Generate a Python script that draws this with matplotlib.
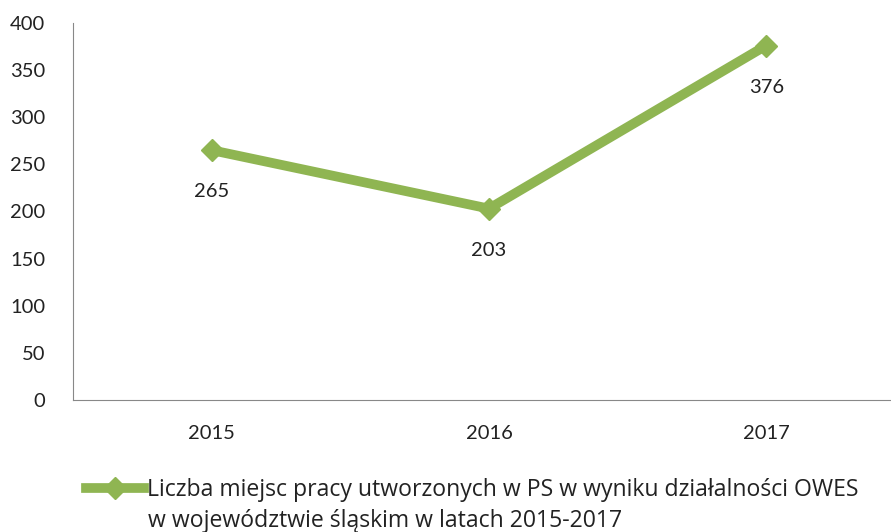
import matplotlib.pyplot as plt

lata = ["2015", "2016", "2017"]
miejsca_pracy = [265, 203, 376]
opis_1 = "Liczba miejsc pracy utworzonych w PS w wyniku działalności OWES"
opis_2 = "w województwie śląskim w latach 2015-2017"

plt.rcParams['font.family'] = ['Lato', 'DejaVu Sans']

fig = plt.figure(figsize=(8.91, 5.32), dpi=100)
ax = fig.add_axes([0.082, 0.248, 0.918, 0.709])

x = list(range(len(lata)))
zielony = "#8FB552"
ax.plot(x, miejsca_pracy, color=zielony, linewidth=7, marker='D', markersize=11,
        label=opis_1, solid_joinstyle='miter')

for xi, v in zip(x, miejsca_pracy):
    ax.annotate(str(v), (xi, v), xytext=(0, -30), textcoords='offset points',
                ha='center', va='center', fontsize=14.5, color='#222222')

ax.set_xlim(-0.5, 2.45)
ax.set_ylim(0, 400)
ax.set_yticks(range(0, 401, 50))
ax.set_xticks(x)
ax.set_xticklabels(lata)

for s in ['top', 'right']:
    ax.spines[s].set_visible(False)
ax.spines['left'].set_color('#888888')
ax.spines['bottom'].set_color('#888888')
ax.tick_params(length=0, labelsize=14.5, colors='#222222')
ax.tick_params(axis='y', pad=20)
ax.tick_params(axis='x', pad=18)

# legenda: pierwsza linia z kreską, druga jako zwykły tekst pod spodem
leg_font = {'family': ['Open Sans', 'DejaVu Sans'], 'size': 16.6}
leg = fig.legend(loc='center left', bbox_to_anchor=(0.097, 1 - 490 / 532), frameon=False,
                 handlelength=2.5, handletextpad=0.12, borderaxespad=0, borderpad=0,
                 labelcolor='#222222', prop=leg_font)
fig.text(148 / 891, 1 - 521 / 532, opis_2, ha='left', va='center',
         color='#222222', fontfamily=leg_font['family'], fontsize=leg_font['size'])

plt.savefig("out.png", dpi=100)
